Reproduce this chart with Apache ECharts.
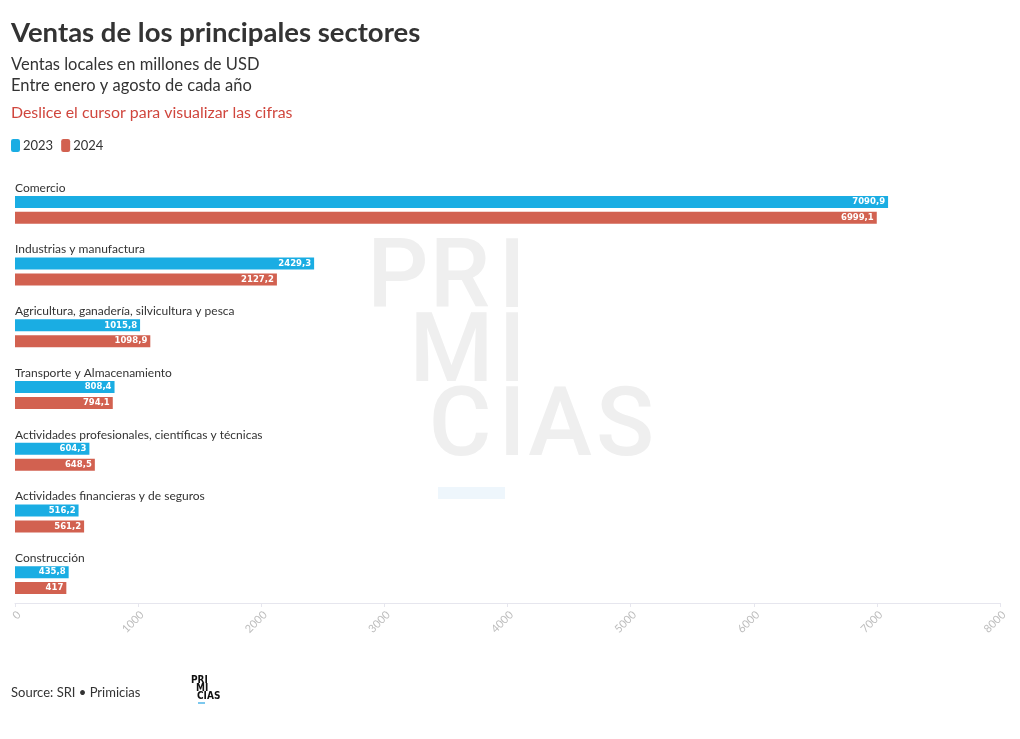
<!DOCTYPE html>
<html>
<head>
<meta charset="utf-8">
<script src="https://cdn.jsdelivr.net/npm/echarts@6/dist/echarts.min.js"></script>
<style>
html,body{margin:0;padding:0;background:#fff;}
#chart{width:1020px;height:739px;}
</style>
</head>
<body>
<div id="chart"></div>
<script>
const categories = [
  'Comercio',
  'Industrias y manufactura',
  'Agricultura, ganadería, silvicultura y pesca',
  'Transporte y Almacenamiento',
  'Actividades profesionales, científicas y técnicas',
  'Actividades financieras y de seguros',
  'Construcción'
];
const values2023 = [7090.9, 2429.3, 1015.8, 808.4, 604.3, 516.2, 435.8];
const values2024 = [6999.1, 2127.2, 1098.9, 794.1, 648.5, 561.2, 417];
const seriesNames = ['2023', '2024'];
const xTicks = [0, 1000, 2000, 3000, 4000, 5000, 6000, 7000, 8000];

const BLUE = '#1aade3';
const RED = '#d26150';
const FONT = 'Lato, "Open Sans", sans-serif';
const WM_FONT = '500 96px Roboto, sans-serif';
const WM_COLOR = '#efefef';

const fmt = v => {
  const s = (Math.round(v * 10) / 10).toString();
  return s.replace('.', ',');
};

const chart = echarts.init(document.getElementById('chart'), null, {renderer: 'canvas'});

const valueLabel = {
  show: true,
  position: 'insideRight',
  distance: 3,
  color: '#fff',
  fontFamily: '"DejaVu Sans", sans-serif',
  fontWeight: 'bold',
  fontSize: 8.5,
  formatter: p => fmt(p.value)
};

const wmLetter = (ch, cx, cy) => ({
  type: 'text', x: cx, y: cy,
  style: {text: ch, font: WM_FONT, fill: WM_COLOR, align: 'center', verticalAlign: 'middle'}
});

const option = {
  backgroundColor: '#fff',
  animation: false,
  title: [
    {text: 'Ventas de los principales sectores', left: 11, top: 19, padding: 0,
     textStyle: {fontFamily: FONT, fontWeight: 'bold', fontSize: 27.5, color: '#333'}},
    {text: 'Ventas locales en millones de USD\nEntre enero y agosto de cada año', left: 11, top: 54, padding: 0,
     textStyle: {fontFamily: FONT, fontWeight: 'normal', fontSize: 16.5, lineHeight: 21, color: '#333'}},
    {text: 'Deslice el cursor para visualizar las cifras', left: 11, top: 105, padding: 0,
     textStyle: {fontFamily: FONT, fontWeight: 'normal', fontSize: 15.9, color: '#d0463d'}},
    {text: 'Source: SRI • Primicias', left: 11, top: 686, padding: 0,
     textStyle: {fontFamily: FONT, fontWeight: 'normal', fontSize: 13, color: '#333'}}
  ],
  legend: {
    data: seriesNames,
    left: 11, top: 139, padding: 0,
    icon: 'roundRect',
    itemWidth: 9, itemHeight: 13, itemGap: 8,
    textStyle: {fontFamily: FONT, fontSize: 13, color: '#333', padding: [0, 0, 0, -2]}
  },
  graphic: [
    {type: 'group', z: -10, silent: true, children: [
      wmLetter('P', 398, 283),
      wmLetter('R', 460, 283),
      wmLetter('I', 512, 283),
      wmLetter('M', 451.5, 357),
      wmLetter('I', 512, 357),
      wmLetter('C', 460, 431),
      wmLetter('I', 512, 431),
      wmLetter('A', 560, 431),
      wmLetter('S', 625, 431),
      {type: 'rect', shape: {x: 438, y: 487, width: 67, height: 12}, style: {fill: '#eef6fc'}}
    ]},
    {type: 'group', silent: true, children: [
      {type: 'text', left: 191, top: 675, style: {text: 'PRI', font: 'bold 10px "DejaVu Sans Condensed", sans-serif', fill: '#111'}},
      {type: 'text', left: 196, top: 683, style: {text: 'MI', font: 'bold 10px "DejaVu Sans Condensed", sans-serif', fill: '#111'}},
      {type: 'text', left: 197, top: 691, style: {text: 'CIAS', font: 'bold 10px "DejaVu Sans Condensed", sans-serif', fill: '#111'}},
      {type: 'rect', shape: {x: 198, y: 702, width: 7, height: 2}, style: {fill: '#7cc8ee'}}
    ]}
  ],
  grid: {left: 15, right: 20, top: 179, bottom: 128, containLabel: false},
  xAxis: {
    type: 'value',
    min: 0, max: 8000, interval: 1000,
    offset: -8,
    axisLine: {show: true, lineStyle: {color: '#e6e6ee'}},
    axisTick: {show: true, length: 4, inside: false, lineStyle: {color: '#e6e6ee'}},
    splitLine: {show: false},
    axisLabel: {
      rotate: 45, margin: 6, verticalAlign: 'top',
      color: '#bdbdbd', fontFamily: FONT, fontSize: 11,
      formatter: v => xTicks.includes(v) ? String(v) : ''
    }
  },
  yAxis: {
    type: 'category',
    data: categories,
    inverse: true,
    axisLine: {show: false},
    axisTick: {show: false},
    axisLabel: {
      inside: true, margin: 0,
      align: 'left', verticalAlign: 'bottom',
      padding: [0, 0, 16, 0],
      color: '#333', fontFamily: FONT, fontSize: 12
    }
  },
  series: [
    {name: seriesNames[0], type: 'bar', data: values2023, barWidth: 12, barGap: '33%',
     itemStyle: {color: BLUE}, label: valueLabel},
    {name: seriesNames[1], type: 'bar', data: values2024, barWidth: 12, barGap: '33%',
     itemStyle: {color: RED}, label: valueLabel}
  ]
};
chart.setOption(option);
</script>
</body>
</html>
